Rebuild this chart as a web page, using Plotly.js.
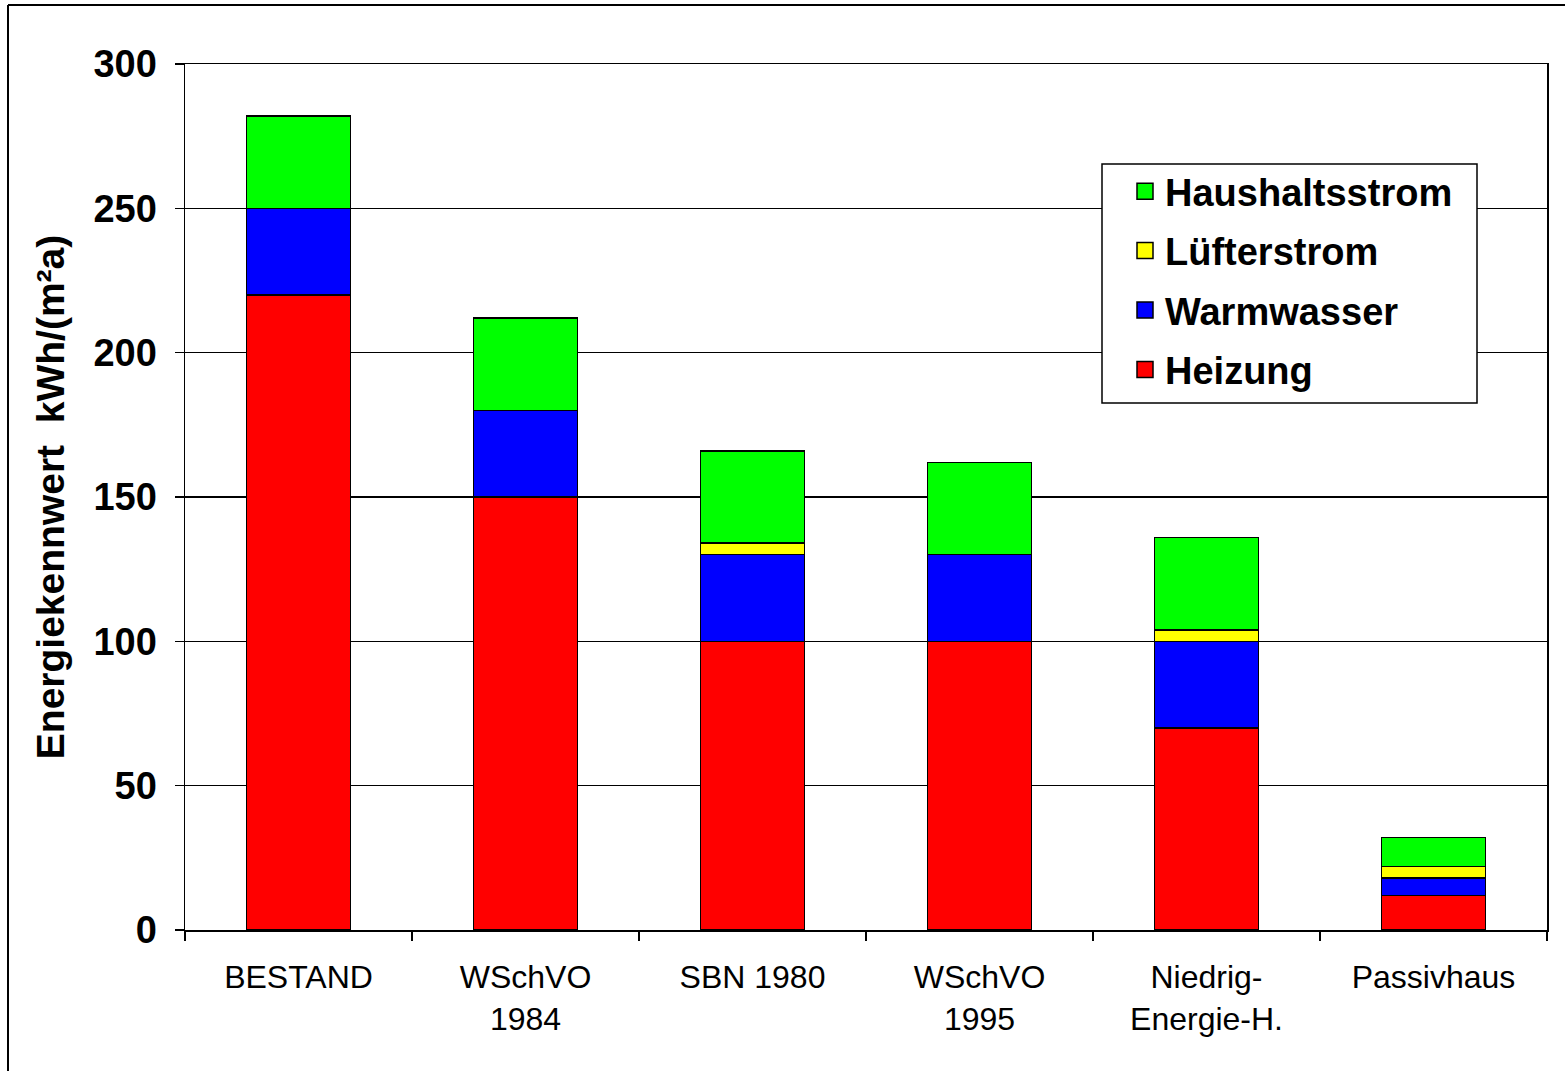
<!DOCTYPE html>
<html>
<head>
<meta charset="utf-8">
<script src="https://cdn.plot.ly/plotly-3.0.1.min.js"></script>
<style>html,body{margin:0;padding:0;background:#fff;}#chart{width:1565px;height:1071px;}</style>
</head>
<body>
<div id="chart"></div>
<script>
const categories = ['BESTAND', 'WSchVO<br>1984', 'SBN 1980', 'WSchVO<br>1995', 'Niedrig-<br>Energie-H.', 'Passivhaus'];
const heizung = [220, 150, 100, 100, 70, 12];
const warmwasser = [30, 30, 30, 30, 30, 6];
const luefterstrom = [null, null, 4, null, 4, 4];
const haushaltsstrom = [32, 32, 32, 32, 32, 10];
const yTicks = [0, 50, 100, 150, 200, 250, 300];

const seriesNames = ['Heizung', 'Warmwasser', 'Lüfterstrom', 'Haushaltsstrom'];
const seriesValues = [heizung, warmwasser, luefterstrom, haushaltsstrom];
const seriesColors = ['#FF0000', '#0000FF', '#FFFF00', '#00FF00'];

const FONT = '"Liberation Sans", Arial, sans-serif';
const traces = [];
seriesNames.forEach((name, i) => {
  traces.push({
    type: 'bar', name: name, x: categories, y: seriesValues[i],
    marker: {color: seriesColors[i], line: {color: '#000', width: 1.5}},
    width: 0.46, showlegend: false, hoverinfo: 'y'
  });
});
// legend entries, top to bottom: Haushaltsstrom, Lüfterstrom, Warmwasser, Heizung
[3, 2, 1, 0].forEach((i) => {
  traces.push({
    type: 'scatter', mode: 'markers', name: seriesNames[i], x: [null], y: [null],
    legendgroup: 'g' + i,
    marker: {symbol: 'square', size: 22, color: seriesColors[i], line: {color: '#000', width: 1.5}},
    showlegend: true
  });
});

const L = 185, R = 18, T = 64, B = 141;
const W = 1565, H = 1071;
const pw = W - L - R, ph = H - T - B;
const px = (v) => (v - L) / pw;
const py = (v) => (H - B - v) / ph;

const layout = {
  width: W, height: H,
  margin: {l: L, r: R, t: T, b: B, pad: 0},
  paper_bgcolor: '#fff', plot_bgcolor: '#fff',
  barmode: 'stack',
  showlegend: true,
  font: {family: FONT, color: '#000'},
  xaxis: {
    type: 'category',
    tickson: 'boundaries', ticks: 'outside', ticklen: 9, tickwidth: 1.5, tickcolor: '#000',
    ticklabelstandoff: 18,
    showline: true, linecolor: '#000', linewidth: 1.5, mirror: true,
    showgrid: false,
    tickfont: {family: FONT, size: 32, color: '#000'},
    automargin: false
  },
  yaxis: {
    range: [0, 300], tickvals: yTicks, ticktext: yTicks.map(String),
    ticks: 'outside', ticklen: 9, tickwidth: 1.5, tickcolor: '#000',
    ticklabelstandoff: 10,
    showline: true, linecolor: '#000', linewidth: 1.5, mirror: true,
    showgrid: true, gridcolor: '#000', gridwidth: 1.5,
    zeroline: false,
    tickfont: {family: FONT, size: 38, color: '#000', weight: 'bold'},
    title: {text: 'Energiekennwert\u00A0\u00A0kWh/(m²a)', font: {family: FONT, size: 39, color: '#000', weight: 'bold'}, standoff: 17},
    automargin: false
  },
  legend: {
    x: px(1125), y: py(160), xanchor: 'left', yanchor: 'top',
    bgcolor: 'rgba(0,0,0,0)', borderwidth: 0,
    traceorder: 'grouped', tracegroupgap: 7,
    font: {family: FONT, size: 38, color: '#000', weight: 'bold'}
  },
  shapes: [
    {type: 'rect', xref: 'paper', yref: 'paper', layer: 'above', x0: px(1102), x1: px(1477), y0: py(403), y1: py(164), fillcolor: '#fff', line: {color: '#000', width: 1.5}},
    {type: 'line', xref: 'paper', yref: 'paper', x0: px(8), x1: px(8), y0: py(H + 10), y1: py(5), line: {color: '#000', width: 2}},
    {type: 'line', xref: 'paper', yref: 'paper', x0: px(8), x1: px(W + 10), y0: py(5), y1: py(5), line: {color: '#000', width: 2}}
  ]
};

Plotly.newPlot('chart', traces, layout, {displayModeBar: false, staticPlot: true});
</script>
</body>
</html>
